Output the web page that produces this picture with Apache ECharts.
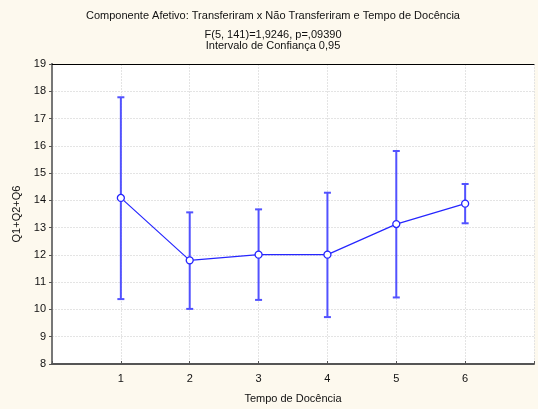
<!DOCTYPE html>
<html>
<head>
<meta charset="utf-8">
<script src="https://cdn.jsdelivr.net/npm/echarts@6/dist/echarts.min.js"></script>
<style>
  html, body { margin: 0; padding: 0; background: #fdf9ee; }
  #chart { width: 538px; height: 409px; }
</style>
</head>
<body>
<div id="chart"></div>
<script>
// Teaching-time groups and the mean score with its 95% confidence interval
const groups = [1, 2, 3, 4, 5, 6];
const means = [14.09, 11.80, 12.01, 12.01, 13.13, 13.88];
const lowerCI = [10.38, 10.02, 10.35, 9.72, 10.44, 13.16];
const upperCI = [17.78, 13.56, 13.67, 14.28, 15.81, 14.60];
const yTicks = [8, 9, 10, 11, 12, 13, 14, 15, 16, 17, 18, 19];

const titleLines = [
  'Componente Afetivo: Transferiram x Não Transferiram e Tempo de Docência',
  'F(5, 141)=1,9246, p=,09390',
  'Intervalo de Confiança 0,95'
];
const titleTops = [5, 24, 35];

const font = 'Arial, "Liberation Sans", sans-serif';
const lineBlue = '#2626ff';
const barBlue = '#5252ff';

const chart = echarts.init(document.getElementById('chart'), null, { renderer: 'canvas' });

const option = {
  backgroundColor: '#fdf9ee',
  animation: false,
  title: titleLines.map((t, i) => ({
    text: t,
    left: 268,
    textAlign: 'center',
    top: titleTops[i],
    textStyle: { fontFamily: font, fontSize: 11, fontWeight: 'normal', color: '#111' }
  })),
  grid: {
    left: 52, right: 4, top: 64, bottom: 45,
    show: true, backgroundColor: '#ffffff', borderWidth: 0
  },
  xAxis: [
    {
      type: 'value', min: 0, max: 7, interval: 1, position: 'bottom',
      name: 'Tempo de Docência', nameLocation: 'middle', nameGap: 29,
      nameTextStyle: { fontFamily: font, fontSize: 11, color: '#111' },
      axisLine: { show: true, lineStyle: { color: '#555', width: 2 } },
      axisTick: { show: true, inside: true, length: 3, lineStyle: { color: '#555' } },
      axisLabel: {
        fontFamily: font, fontSize: 11, color: '#111', margin: 9,
        formatter: v => (groups.indexOf(v) >= 0 ? String(v) : '')
      },
      splitLine: { show: true, lineStyle: { color: '#e4e4e4', type: [2, 1] } }
    },
    {
      type: 'value', min: 0, max: 7, interval: 1, position: 'top',
      axisLine: { show: true, lineStyle: { color: '#000', width: 1 } },
      axisTick: { show: false }, axisLabel: { show: false }, splitLine: { show: false }
    }
  ],
  yAxis: [
    {
      type: 'value', min: yTicks[0], max: yTicks[yTicks.length - 1], interval: 1,
      position: 'left',
      name: 'Q1+Q2+Q6', nameLocation: 'middle', nameGap: 24, nameRotate: 90,
      nameTextStyle: { fontFamily: font, fontSize: 11, color: '#111' },
      axisLine: { show: true, lineStyle: { color: '#666', width: 2 } },
      axisTick: { show: true, inside: false, length: 3, lineStyle: { color: '#555' } },
      axisLabel: { fontFamily: font, fontSize: 11, color: '#111', margin: 6 },
      splitLine: { show: true, lineStyle: { color: '#e4e4e4', type: [2, 1] } }
    },
    {
      type: 'value', min: yTicks[0], max: yTicks[yTicks.length - 1], interval: 1,
      position: 'right',
      axisLine: { show: true, lineStyle: { color: '#777', width: 2 } },
      axisTick: { show: true, inside: true, length: 3, lineStyle: { color: '#555' } },
      axisLabel: { show: false }, splitLine: { show: false }
    }
  ],
  series: [
    {
      type: 'custom',
      name: 'IC 95%',
      z: 3,
      data: groups.map((g, i) => [g, lowerCI[i], upperCI[i]]),
      renderItem: function (params, api) {
        const x = api.value(0);
        const lo = api.coord([x, api.value(1)]);
        const hi = api.coord([x, api.value(2)]);
        const cap = 3.5;
        const style = { stroke: barBlue, lineWidth: 2 };
        return {
          type: 'group',
          children: [
            { type: 'line', shape: { x1: lo[0], y1: lo[1], x2: hi[0], y2: hi[1] }, style: style },
            { type: 'line', shape: { x1: hi[0] - cap, y1: hi[1], x2: hi[0] + cap, y2: hi[1] }, style: style },
            { type: 'line', shape: { x1: lo[0] - cap, y1: lo[1], x2: lo[0] + cap, y2: lo[1] }, style: style }
          ]
        };
      }
    },
    {
      type: 'line',
      name: 'Média',
      z: 5,
      data: groups.map((g, i) => [g, means[i]]),
      lineStyle: { color: lineBlue, width: 1.2 },
      symbol: 'circle',
      symbolSize: 7,
      itemStyle: { color: '#ffffff', borderColor: lineBlue, borderWidth: 1.3 }
    }
  ]
};

chart.setOption(option);
</script>
</body>
</html>
